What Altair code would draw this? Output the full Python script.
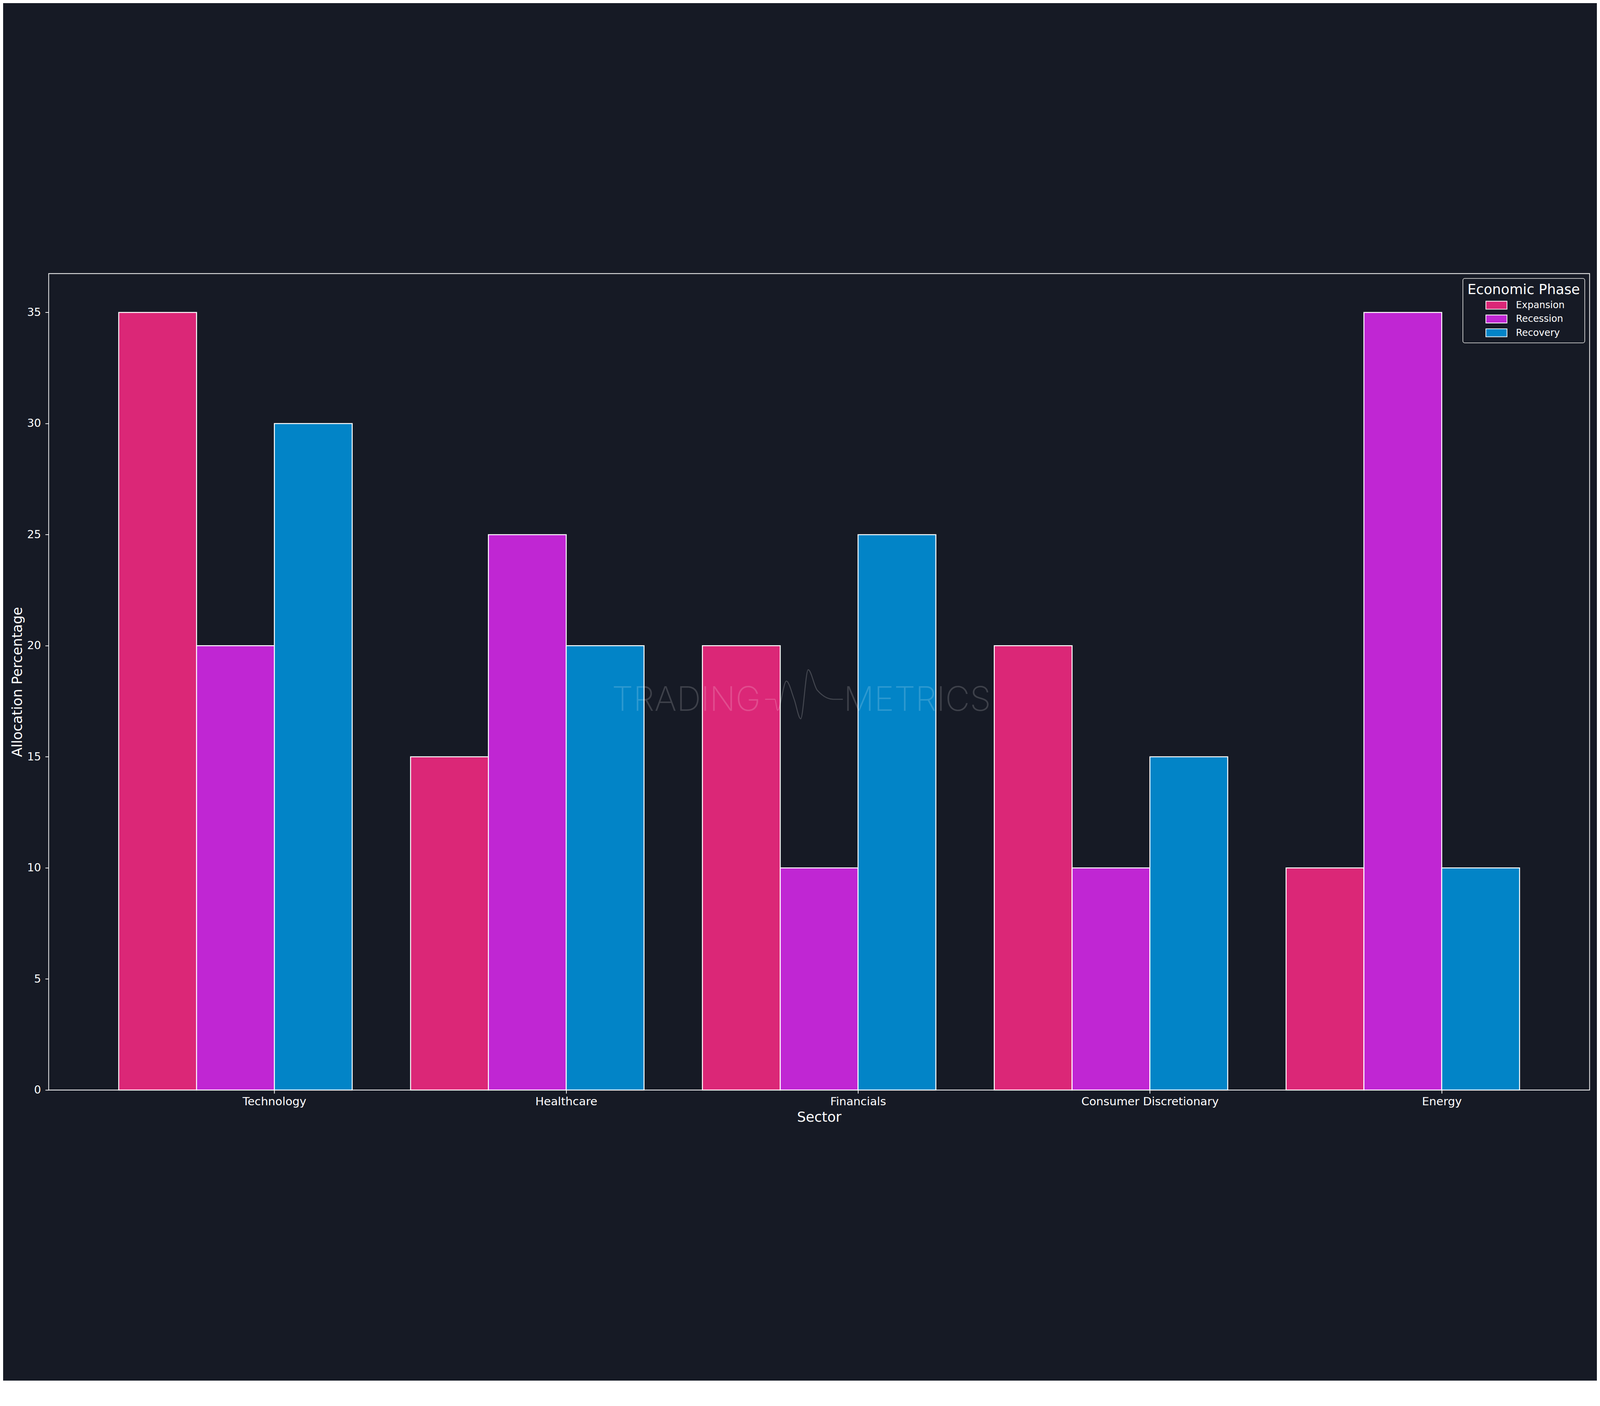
import pandas as pd
import altair as alt

# --- dati ---
sectors = ["Technology", "Healthcare", "Financials", "Consumer Discretionary", "Energy"]
phases = ["Expansion", "Recession", "Recovery"]
expansion = [35, 15, 20, 20, 10]
recession = [20, 25, 10, 10, 35]
recovery = [30, 20, 25, 15, 10]
phase_colors = ["#db2777", "#c026d3", "#0284c7"]
y_ticks = [0, 5, 10, 15, 20, 25, 30, 35]

BG = "#161a25"
FONT = "DejaVu Sans"
BAR_W = 0.8 / 3

# barre affiancate: il tick cade tra Recession e Recovery
rows = []
for p_idx, (phase, vals) in enumerate(zip(phases, [expansion, recession, recovery])):
    for s_idx, (sector, v) in enumerate(zip(sectors, vals)):
        left = s_idx + (p_idx - 2) * BAR_W
        rows.append({"Sector": sector, "Phase": phase, "Allocation": v,
                     "x0": left, "x1": left + BAR_W})
df = pd.DataFrame(rows)

span = (len(sectors) - 1) + 3 * BAR_W
x_lo = -2 * BAR_W - 0.05 * span
x_hi = (len(sectors) - 1) + BAR_W + 0.05 * span
y_hi = max(expansion + recession + recovery) * 1.05

label_expr = "[" + ",".join(f"'{s}'" for s in sectors) + "][datum.value]"

bars = alt.Chart(df).mark_rect(stroke="white", strokeWidth=4).encode(
    x=alt.X("x0:Q",
            scale=alt.Scale(domain=[x_lo, x_hi], nice=False, zero=False),
            axis=alt.Axis(values=list(range(len(sectors))), labelExpr=label_expr,
                          title="Sector", labelPadding=11, titlePadding=14,
                          labelFontSize=47, labelLimit=1000)),
    x2="x1:Q",
    y=alt.Y("Allocation:Q",
            scale=alt.Scale(domain=[0, y_hi], nice=False),
            axis=alt.Axis(values=y_ticks, format="d", title="Allocation Percentage",
                          labelPadding=18, titlePadding=10, labelFontSize=45)),
    y2=alt.datum(0),
    color=alt.Color("Phase:N",
                    scale=alt.Scale(domain=phases, range=phase_colors),
                    legend=alt.Legend(
                        title="Economic Phase", orient="top-right", offset=20,
                        padding=19, fillColor=BG, strokeColor="#cccccc",
                        cornerRadius=8,
                        titleFontSize=57, titleFontWeight="normal", titleColor="white",
                        titleFont=FONT, titleAnchor="middle", titleLimit=1000,
                        titlePadding=15,
                        labelFontSize=39, labelColor="white", labelFont=FONT,
                        labelLimit=600, labelOffset=61,
                        symbolType="M-2.636,-1H2.636V1H-2.636Z", symbolSize=1089,
                        symbolOffset=37, symbolStrokeColor="white",
                        symbolStrokeWidth=3, symbolOpacity=1, rowPadding=12)),
)

# watermark al centro del grafico
wm = pd.DataFrame({"word": ["TRADING", "METRICS"], "x": [1.4115, 2.203], "y": [17.07, 17.07]})
watermark = alt.Chart(wm).mark_text(
    font="Inter", fontWeight=200, fontSize=140, color="white", opacity=0.17,
    align="center", baseline="alphabetic"
).encode(x="x:Q", y="y:Q", text="word:N")

logo_pts = pd.DataFrame({
    "x": [1.6814, 1.7146, 1.7245, 1.7544, 1.7810, 1.8034, 1.8291, 1.8600, 1.9146, 1.9479],
    "y": [17.59, 17.59, 17.09, 18.41, 17.59, 16.71, 18.92, 18.00, 17.59, 17.59],
})
logo = alt.Chart(logo_pts).mark_line(
    color="white", opacity=0.2, strokeWidth=4, interpolate="monotone"
).encode(x="x:Q", y="y:Q", order=alt.Order("x:Q"))

chart = alt.layer(bars, watermark, logo).properties(
    width=6359,
    height=3370,
    autosize=alt.AutoSizeParams(type="none"),
    padding={"left": 188, "top": 37, "right": 30, "bottom": 120},
).configure(
    background=BG,
    font=FONT,
).configure_view(
    fill=BG, stroke="white", strokeWidth=3
).configure_axis(
    domain=False, grid=False,
    tickColor="white", tickWidth=3, tickSize=14,
    labelColor="white", titleColor="white",
    labelFont=FONT, titleFont=FONT,
    titleFontWeight="normal", titleFontSize=57,
).configure_legend(
    strokeWidth=3
)

chart.save("out.html", embed_options={"renderer": "svg", "actions": False})
